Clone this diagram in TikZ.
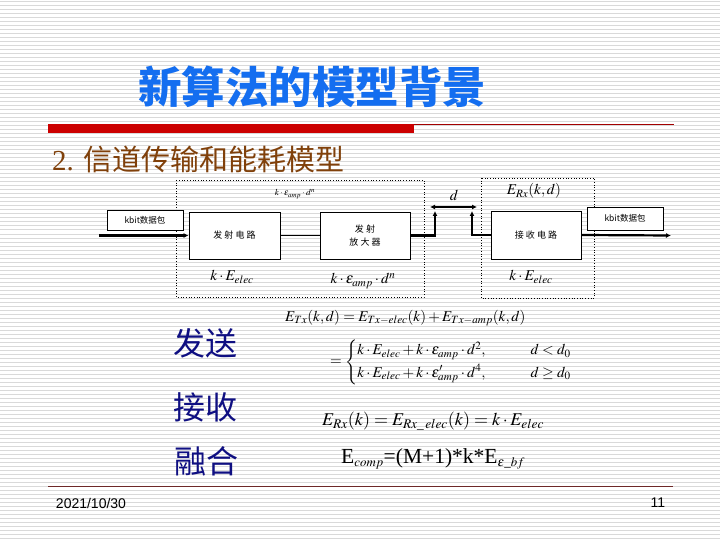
\documentclass[tikz,border=0pt]{standalone}
\usepackage{amsmath}
\usepackage{mathptmx}
\usepackage{fontspec}
\setmainfont{Liberation Serif}
\setsansfont{Liberation Sans}
\newfontfamily\cjk{Noto Sans CJK SC}
\usetikzlibrary{arrows.meta,positioning}
\definecolor{titleblue}{RGB}{20,110,240}
\definecolor{subbrown}{RGB}{128,64,10}
\definecolor{barred}{RGB}{204,0,0}
\definecolor{rulered}{RGB}{110,40,40}
\definecolor{labelnavy}{RGB}{15,15,130}
\tikzset{
  stripe/.style={draw=gray!30, line width=1pt},
  blockbox/.style={
    draw=black,
    fill=white,
    line width=0.8pt,
    align=center,
    minimum width=91pt,
    minimum height=47pt,
    inner sep=0pt,
    font=\cjk\fontsize{9}{13}\selectfont
  },
  databox/.style={
    draw=black,
    fill=white,
    line width=0.8pt,
    minimum width=76pt,
    minimum height=20pt,
    inner sep=0pt,
    font=\cjk\fontsize{8.5}{10}\selectfont
  },
  groupbox/.style={
    draw=black,
    dotted,
    line width=0.7pt
  },
  thickline/.style={
    line width=2.2pt
  },
  flowarrow/.style={
    thickline,
    -{Latex[length=5pt,width=5pt]}
  },
  sidelabel/.style={
    text=labelnavy,
    font=\cjk\fontsize{32}{36}\selectfont
  },
  mathlabel/.style={
    inner sep=0pt,
    font=\fontsize{15}{17}\selectfont
  }
}

\begin{document}
\begin{tikzpicture}[x=1pt,y=-1pt]
  \useasboundingbox (0,0) rectangle (720,540);
  \fill[white] (0,0) rectangle (720,540);
  \foreach \yy in {2,6,...,538}
    \draw[stripe] (0,\yy) -- (720,\yy);

  % title and header rule
  \node[text=titleblue, font=\cjk\bfseries\fontsize{43.5}{48}\selectfont] (title) at (312,87) {新算法的模型背景};
  \fill[barred] (48,124) rectangle (414,133);
  \draw[barred!80!black, line width=1pt] (414,124.5) -- (674,124.5);
  \node[anchor=west, text=subbrown, inner sep=0pt, font=\fontsize{29}{32}\selectfont] (subtitle) at (52,159)
    {2. {\cjk 信道传输和能耗模型}};

  % channel model
  \draw[groupbox] (176,180) rectangle (424,297);
  \draw[groupbox] (481,178) rectangle (594,298);
  \node[databox] (datain) at (145,220.5) {kbit数据包};
  \node[blockbox] (txcirc) at (234.5,235.5) {发 射 电 路};
  \node[blockbox, minimum width=90pt] (txamp) at (365,235.5) {发 射\\放 大 器};
  \node[blockbox, minimum width=90pt, minimum height=48pt] (rxcirc) at (536,235) {接 收 电 路};
  \node[databox, minimum height=23pt] (dataout) at (625,218.5) {kbit数据包};
  \coordinate (inL) at (99,235.5);
  \coordinate (outR) at (671,235.5);
  \coordinate (upL) at (435,211);
  \coordinate (upR) at (472,211);
  \coordinate (dL) at (430,207);
  \coordinate (dR) at (477,207);
  \draw[flowarrow] (inL) -- (txcirc.west);
  \draw[line width=0.8pt] (txcirc.east) -- (txamp.west);
  \draw[flowarrow] (txamp.east) -| (upL);
  \draw[flowarrow] (rxcirc.west) -| (upR);
  \draw[thickline, {Latex[length=5pt,width=5pt]}-{Latex[length=5pt,width=5pt]}] (dL) -- (dR);
  \draw[flowarrow] (rxcirc.east) -- (outR);

  \node[mathlabel, font=\fontsize{9}{10}\selectfont] (amptop) at (295,194) {$k\cdot\varepsilon_{amp}\cdot d^{n}$};
  \node[mathlabel] (dist) at (454,195) {$d$};
  \node[mathlabel] (erx) at (534,191) {$E_{Rx}(k,d)$};
  \node[mathlabel] (txelec) at (232,277) {$k\cdot E_{elec}$};
  \node[mathlabel] (ampcost) at (363,281) {$k\cdot\varepsilon_{amp}\cdot d^{n}$};
  \node[mathlabel] (rxelec) at (531,277) {$k\cdot E_{elec}$};

  % energy formulas
  \node[sidelabel] (send) at (205,343) {发送};
  \node[sidelabel] (recv) at (205,407) {接收};
  \node[sidelabel] (fuse) at (206,461) {融合};
  \node[mathlabel, anchor=west] (etx) at (285,318)
    {$E_{Tx}(k,d)=E_{Tx-elec}(k)+E_{Tx-amp}(k,d)$};
  \node[mathlabel, anchor=west] (etxcase) at (330,362)
    {$=\begin{cases}
      k\cdot E_{elec}+k\cdot\varepsilon_{amp}\cdot d^{2}, & \qquad d<d_{0}\\[2pt]
      k\cdot E_{elec}+k\cdot\varepsilon'_{amp}\cdot d^{4}, & \qquad d\ge d_{0}
    \end{cases}$};
  \node[mathlabel, anchor=west, font=\fontsize{18}{20}\selectfont] (erxk) at (322,421)
    {$E_{Rx}(k)=E_{Rx\_\,elec}(k)=k\cdot E_{elec}$};
  \node[anchor=west, inner sep=0pt, font=\fontsize{21.5}{24}\selectfont] (ecomp) at (341,459)
    {E$_{\scriptscriptstyle comp}$=(M+1)*k*E$_{\scriptscriptstyle\varepsilon\_bf}$};

  % footer
  \draw[rulered, line width=1pt] (48,486) -- (673,486);
  \node[font=\sffamily\fontsize{14}{16}\selectfont] (date) at (91,503) {2021/10/30};
  \node[font=\sffamily\fontsize{14}{16}\selectfont] (page) at (658,503) {11};
\end{tikzpicture}
\end{document}
